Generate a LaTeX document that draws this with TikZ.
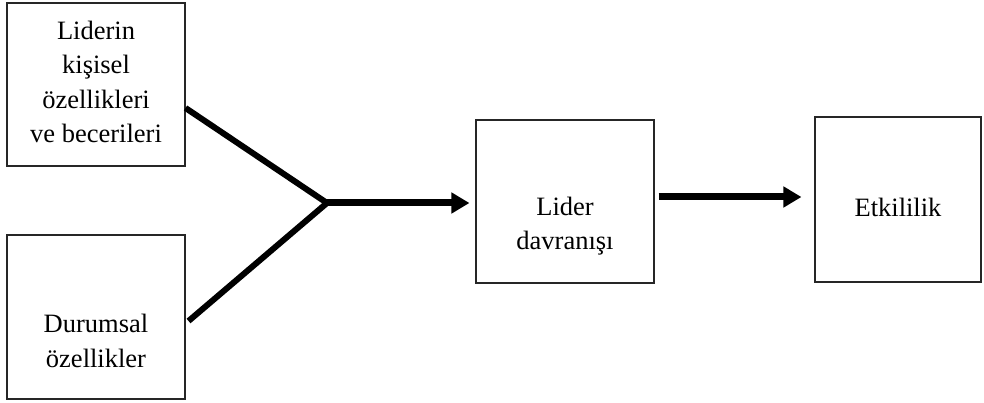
\documentclass[tikz,border=0pt]{standalone}
\usepackage{fontspec}
\setmainfont{Liberation Serif}
\usetikzlibrary{arrows.meta,calc}

\tikzset{
  box/.style={draw=black!85, line width=1.1pt, minimum width=#1, inner sep=0pt},
  lbl/.style={align=center, inner sep=0pt, font=\fontsize{26.5}{34.5}\selectfont},
  link/.style={line width=6pt},
  flow/.style={line width=7pt, -{Triangle[length=18pt,width=20pt]}},
}

\begin{document}
\begin{tikzpicture}[x=1pt,y=-1pt]
  \useasboundingbox (0,0) rectangle (984,403);

  % boxes
  \node[box=178pt, minimum height=163pt] (b1) at (96,84.5) {};
  \node[box=178pt, minimum height=164pt] (b2) at (96,317) {};
  \node[box=178pt, minimum height=163pt] (b3) at (565,201.5) {};
  \node[box=166pt, minimum height=165pt] (b4) at (898,199.5) {};

  % box texts
  \node[lbl] (t1) at (96,82) {Liderin\\kişisel\\özellikleri\\ve becerileri};
  \node[lbl] (t2) at (96,341) {Durumsal\\özellikler};
  \node[lbl] (t3) at (565,226) {Lider\\davranışı};
  \node[lbl] (t4) at (898,207) {Etkililik};

  % joining lines and arrows
  \coordinate (j) at (327,203);
  \draw[link] ([yshift=-23.5pt]b1.east) -- (j);
  \draw[link] ([xshift=3pt,yshift=-4pt]b2.east) -- (j);
  \draw[flow, shorten >=6pt] ([xshift=-2pt]j) -- (j -| b3.west);
  \draw[flow, shorten <=4pt, shorten >=13pt] ([yshift=4.5pt]b3.east) -- ([yshift=4.5pt]b3.east -| b4.west);
\end{tikzpicture}
\end{document}
